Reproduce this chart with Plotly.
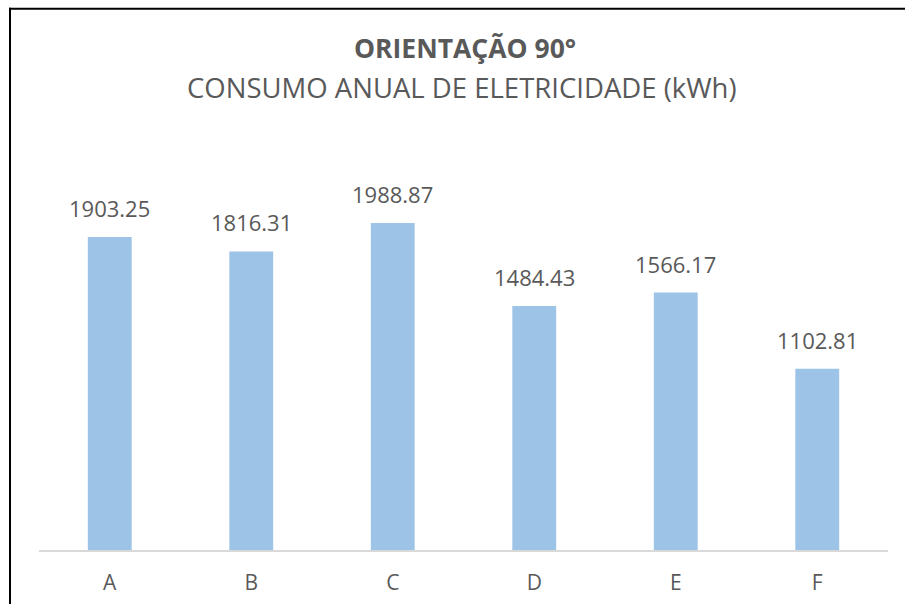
import plotly.graph_objects as go

# Annual electricity consumption per case, orientation 90°
categories = ["A", "B", "C", "D", "E", "F"]
consumo_kwh = [1903.25, 1816.31, 1988.87, 1484.43, 1566.17, 1102.81]

TEXT = "#595959"
BAR = "#9DC3E6"
FONT = "Open Sans"

W, H = 905, 604
L, R, T, B = 39, 17, 138.5, 54
pw, ph = W - L - R, H - T - B


def px_x(px):
    return (px - L) / pw


def px_y(py):
    return (H - B - py) / ph


fig = go.Figure(
    go.Bar(
        x=categories,
        y=consumo_kwh,
        marker=dict(color=BAR, line=dict(width=0)),
        width=0.31,
        hoverinfo="x+y",
    )
)

# Value labels above each bar
for c, v in zip(categories, consumo_kwh):
    fig.add_annotation(
        x=c, y=v, text=f"{v:.2f}", showarrow=False,
        yanchor="bottom", yshift=12,
        font=dict(family=FONT, size=22, color=TEXT),
    )

# Two-line title
fig.add_annotation(
    xref="paper", yref="paper", x=px_x(465), y=px_y(47.5),
    text="<b>ORIENTAÇÃO 90°</b>", showarrow=False,
    xanchor="center", yanchor="middle",
    font=dict(family=FONT, size=26.5, color=TEXT),
)
fig.add_annotation(
    xref="paper", yref="paper", x=px_x(462), y=px_y(87),
    text="CONSUMO ANUAL DE ELETRICIDADE (kWh)", showarrow=False,
    xanchor="center", yanchor="middle",
    font=dict(family=FONT, size=27.5, color=TEXT),
)

# Chart frame: top and left edges (the rest runs past the page)
frame = dict(color="black", width=2)
fig.add_shape(type="line", xref="paper", yref="paper",
              x0=px_x(9), x1=px_x(W + 20), y0=px_y(8), y1=px_y(8),
              line=frame, layer="above")
fig.add_shape(type="line", xref="paper", yref="paper",
              x0=px_x(10), x1=px_x(10), y0=px_y(7), y1=px_y(H + 20),
              line=frame, layer="above")

fig.update_layout(
    width=W, height=H,
    margin=dict(l=L, r=R, t=T, b=B, pad=0),
    paper_bgcolor="white", plot_bgcolor="white",
    showlegend=False,
    bargap=0.69,
    xaxis=dict(
        showline=True, linecolor="#D9D9D9", linewidth=1.5,
        ticks="", showgrid=False, zeroline=False,
        tickfont=dict(family=FONT, size=21, color=TEXT),
        ticklabelstandoff=13, automargin=False,
    ),
    yaxis=dict(
        range=[0, 2500], visible=False, showgrid=False, zeroline=False,
        automargin=False,
    ),
)

fig.write_html("out.html")
